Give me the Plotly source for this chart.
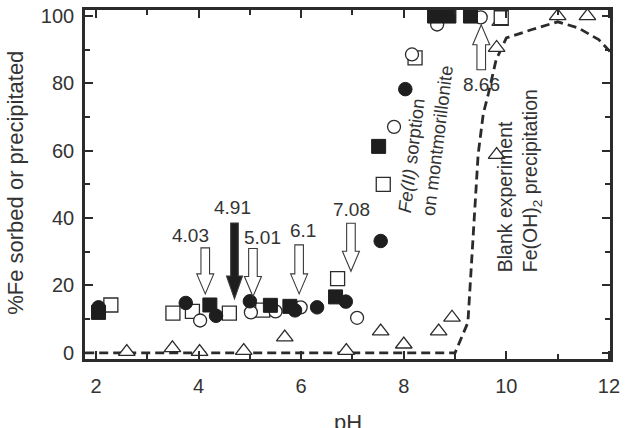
import plotly.graph_objects as go

# ---------------- data ----------------
fc_x = [2.05, 3.75, 4.34, 5.00, 5.88, 6.31, 6.87, 7.55, 8.03]
fc_y = [13.5, 14.8, 11.0, 15.3, 12.6, 13.5, 15.2, 33.2, 78.3]

oc_x = [4.03, 5.02, 5.50, 5.99, 7.09, 7.81, 8.16, 8.65, 9.50]
oc_y = [9.6, 12.0, 12.3, 13.5, 10.4, 67.1, 88.6, 97.5, 99.6]

fs_x = [2.05, 4.22, 5.40, 5.78, 6.67, 7.51, 8.60, 8.88, 9.30]
fs_y = [12.0, 14.2, 14.1, 13.8, 16.6, 61.3, 100.0, 100.0, 100.0]

os_x = [2.29, 3.50, 3.88, 4.60, 5.25, 6.71, 7.60, 8.22, 9.90]
os_y = [14.2, 11.8, 12.3, 11.8, 12.7, 22.0, 50.0, 87.6, 99.5]

tri_x = [2.60, 3.49, 4.02, 4.88, 5.68, 6.88, 7.55, 8.00, 8.68, 8.94, 9.81, 9.81, 9.88, 11.00, 11.58]
tri_y = [0.3, 1.4, 0.3, 0.6, 4.6, 0.6, 6.4, 2.5, 6.4, 10.5, 58.8, 90.6, 98.3, 100.0, 100.0]

blank_x = [1.79, 9.00, 9.25, 9.35, 9.45, 9.55, 9.65, 9.80, 10.00, 10.50, 11.00, 11.40, 11.80, 12.02]
blank_y = [0.0, 0.0, 9.0, 35.0, 59.0, 71.0, 77.0, 87.0, 93.5, 96.0, 98.3, 96.5, 93.0, 89.5]

arrow_labels = ["4.03", "4.91", "5.01", "6.1", "7.08", "8.66"]
arrow_x = [4.13, 4.70, 5.06, 5.96, 6.97, 9.51]
arrow_tip_y = [17.5, 16.0, 16.7, 17.5, 24.2, 97.4]

x_ticks = [2, 4, 6, 8, 10, 12]
y_ticks = [0, 20, 40, 60, 80, 100]

# ---------------- styling ----------------
FONT = "Liberation Sans, Arial, Helvetica, sans-serif"
INK = "#2b2b2b"
TXT = "#333333"

W, H = 625, 428
ml, mr, mt, mb = 85, 13, 5, 69
pw, ph = W - ml - mr, H - mt - mb

fig = go.Figure()

fig.add_trace(go.Scatter(x=blank_x, y=blank_y, mode="lines",
                         line=dict(color=INK, width=2.8, dash="9px,5px"),
                         showlegend=False, hoverinfo="skip"))

mk_line = dict(color=INK, width=1.3)
fig.add_trace(go.Scatter(x=tri_x, y=tri_y, mode="markers", showlegend=False,
                         marker=dict(symbol="triangle-up", size=14.5, color="white", line=mk_line)))
fig.add_trace(go.Scatter(x=os_x, y=os_y, mode="markers", showlegend=False,
                         marker=dict(symbol="square", size=14, color="white", line=mk_line)))
fig.add_trace(go.Scatter(x=oc_x, y=oc_y, mode="markers", showlegend=False,
                         marker=dict(symbol="circle", size=13, color="white", line=mk_line)))
fig.add_trace(go.Scatter(x=fs_x, y=fs_y, mode="markers", showlegend=False,
                         marker=dict(symbol="square", size=14, color="#1e1e1e", line=dict(color="#1e1e1e", width=1))))
fig.add_trace(go.Scatter(x=fc_x, y=fc_y, mode="markers", showlegend=False,
                         marker=dict(symbol="circle", size=13.5, color="#1e1e1e", line=dict(color="#1e1e1e", width=1))))

# block arrows (pixel-sized shapes anchored at data positions)
arrow_len = [46, 76, 48, 49, 48, 45]
arrow_dir = [-1, -1, -1, -1, -1, 1]        # -1 points down, 1 points up
arrow_fill = ["white", "#1e1e1e", "white", "white", "white", "white"]
label_dx = [-15, -2, 10, 4, 1, 0]
label_dy = [12, 15, 11, 14, 14, -15]

shapes = []
annotations = []
for i, lab in enumerate(arrow_labels):
    L = arrow_len[i]
    d = arrow_dir[i]
    hw, hl, sw = 8.5, 20, 4.3
    if i == 1:
        hw, hl, sw = 8.0, 23, 3.8
    s = -d  # +1 means tail above the tip
    pts = [(0, 0), (-hw, s * hl), (-sw, s * hl), (-sw, s * L), (sw, s * L), (sw, s * hl), (hw, s * hl)]
    path = "M " + " L ".join(f"{px},{py}" for px, py in pts) + " Z"
    shapes.append(dict(type="path", xref="x", yref="y",
                       xsizemode="pixel", ysizemode="pixel",
                       xanchor=arrow_x[i], yanchor=arrow_tip_y[i],
                       path=path, fillcolor=arrow_fill[i],
                       line=dict(color="#3a3a3a", width=1.1), layer="above"))
    yshift = L + label_dy[i] if d == -1 else -(L - label_dy[i])
    annotations.append(dict(x=arrow_x[i], y=arrow_tip_y[i], xref="x", yref="y",
                            text=lab, showarrow=False,
                            xanchor="center", yanchor="middle",
                            xshift=label_dx[i], yshift=yshift,
                            font=dict(family=FONT, size=19, color=TXT)))

# rotated text labels
annotations.append(dict(x=8.43, y=63.5, xref="x", yref="y", showarrow=False,
                        text="<i>Fe(II)</i> sorption<br>on montmorillonite",
                        textangle=-83, align="left",
                        xanchor="center", yanchor="middle",
                        font=dict(family=FONT, size=18.5, color=TXT)))
annotations.append(dict(x=10.25, y=51.0, xref="x", yref="y", showarrow=False,
                        text="Blank experiment<br>Fe(OH)<sub>2</sub> precipitation",
                        textangle=-90, align="left",
                        xanchor="center", yanchor="middle",
                        font=dict(family=FONT, size=19.5, color=TXT)))

# axis titles
annotations.append(dict(x=(15 - ml) / pw, y=(H - mb - 180) / ph, xref="paper", yref="paper",
                        showarrow=False, xanchor="center", yanchor="middle",
                        text="%Fe sorbed or precipitated", textangle=-90,
                        font=dict(family=FONT, size=22, color=TXT)))
annotations.append(dict(x=0.5, y=0, xref="paper", yref="paper", showarrow=False,
                        text="pH", yshift=-63, xanchor="center", yanchor="middle",
                        font=dict(family=FONT, size=22, color=TXT)))

fig.update_layout(
    width=W, height=H,
    margin=dict(l=ml, r=mr, t=mt, b=mb, pad=0),
    paper_bgcolor="white", plot_bgcolor="white",
    font=dict(family=FONT, color=TXT),
    shapes=shapes, annotations=annotations, showlegend=False,
)
fig.update_xaxes(range=[1.786, 12.02], tickvals=x_ticks, ticktext=[str(v) for v in x_ticks],
                 ticks="inside", ticklen=8, tickwidth=1.8, tickcolor=INK,
                 minor=dict(ticks="inside", ticklen=5, tickwidth=1.8, dtick=1, tick0=0, tickcolor=INK),
                 showline=True, linecolor=INK, linewidth=2.6, mirror="ticks",
                 showgrid=False, zeroline=False, ticklabelstandoff=7,
                 tickfont=dict(family=FONT, size=20, color=TXT))
fig.update_yaxes(range=[-1.84, 101.8], tickvals=y_ticks, ticktext=[str(v) for v in y_ticks],
                 ticks="inside", ticklen=8, tickwidth=1.8, tickcolor=INK,
                 minor=dict(ticks="inside", ticklen=5, tickwidth=1.8, dtick=10, tick0=0, tickcolor=INK),
                 showline=True, linecolor=INK, linewidth=2.6, mirror="ticks",
                 showgrid=False, zeroline=False, ticklabelstandoff=4,
                 tickfont=dict(family=FONT, size=20, color=TXT))

fig.write_html("out.html")
